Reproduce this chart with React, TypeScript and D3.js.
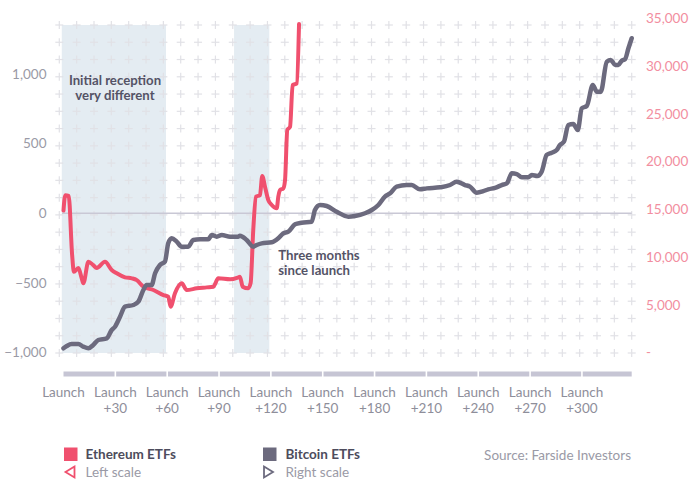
import React from "react";
import * as d3 from "d3";

// ---- Data ----
const ethDays = [0, 1, 3, 5, 6, 8.6, 10.5, 11.5, 14.4, 17.2, 19.2, 24, 27.9, 30.8, 35.6, 39.5, 42.4, 46.2, 52, 57.8, 60.6, 62, 64.5, 68.4, 71.3, 77.1, 82.9, 86.7, 89.6, 96.4, 101.2, 102.1, 103.7, 106.9, 108.3, 109.8, 111.4, 113.7, 115, 116.6, 118.5, 120.5, 123.4, 124.3, 125.3, 127.2, 128.2, 129.5, 131.1, 132.6, 135, 136.3];
const ethValues = [20, 130, 125, -300, -420, -393, -465, -503, -348, -372, -393, -348, -407, -431, -460, -467, -480, -527, -551, -587, -599, -671, -575, -503, -551, -539, -532, -527, -467, -474, -460, -456, -527, -539, -500, -120, 120, 131, 268, 191, 96, 60, 36, 120, 167, 180, 240, 599, 622, 922, 934, 1360];

const btcDays = [0, 1.9, 4.7, 8.6, 11.5, 14.4, 17.2, 20.1, 25, 27.9, 29.8, 32.7, 35.6, 40.4, 43.3, 46.2, 48.1, 51, 53, 55.8, 58.7, 60.6, 62.6, 65.5, 68.4, 72.2, 75.1, 79, 83.8, 85.8, 88.7, 91.6, 96.4, 101.2, 102.1, 106, 109.8, 111.8, 114.7, 120.5, 124.3, 127.2, 130.1, 134, 137.8, 143.6, 145.5, 148.4, 152.3, 158.1, 164.8, 168.7, 174.5, 178.4, 182.2, 186, 189, 192.8, 198.6, 201.5, 206.3, 210.2, 217.9, 223.7, 227.5, 232.3, 235.2, 239.1, 242.9, 245.8, 249.7, 253.6, 256.5, 259.4, 262.3, 265.2, 269, 271, 274.2, 276.7, 279.6, 282.5, 285.4, 287.3, 289.6, 292.1, 295, 297.6, 299.9, 302.8, 306.3, 308.6, 310.9, 314.4, 316.7, 319.2, 321.1, 323, 324.9, 326.9, 328.8];
const btcValues = [440, 680, 890, 890, 610, 440, 786, 1310, 1488, 2358, 2704, 3752, 4800, 4978, 5324, 6550, 7074, 7074, 8300, 9170, 9516, 11444, 11968, 11620, 11088, 11088, 11790, 11860, 11860, 12314, 12137, 12314, 12137, 12137, 12240, 11790, 11090, 11265, 11440, 11550, 11968, 12490, 12660, 13430, 13600, 13700, 14930, 15460, 15350, 14750, 14230, 14300, 14590, 14930, 15460, 16330, 16680, 17380, 17550, 17550, 17100, 17200, 17310, 17550, 17900, 17550, 17380, 16750, 16900, 17100, 17250, 17550, 17720, 18780, 18700, 18360, 18360, 18600, 18500, 18950, 20700, 20940, 21220, 21750, 22090, 23840, 23950, 23320, 25590, 25830, 28030, 27330, 27330, 30480, 30650, 30130, 30130, 30580, 30720, 31880, 32930];

const leftTicks = [-1000, -500, 0, 500, 1000];
const rightTicks = [0, 5000, 10000, 15000, 20000, 25000, 30000, 35000];
const xTicks = [0, 30, 60, 90, 120, 150, 180, 210, 240, 270, 300];
const xTickLabels = ["Launch", "Launch\n+30", "Launch\n+60", "Launch\n+90", "Launch\n+120", "Launch\n+150", "Launch\n+180", "Launch\n+210", "Launch\n+240", "Launch\n+270", "Launch\n+300"];
const shadedPeriods = [[-1, 59.3], [98.7, 119.1]];
const annotations = [
  { day: 29.8, value: 925, lines: ["Initial reception", "very different"], anchor: "middle" },
  { day: 124.3, value: -335, lines: ["Three months", "since launch"], anchor: "start" },
];
const lastDay = 328.8;

const ETH = "#f0506e";
const BTC = "#6c6a7e";
const FONT = "Lato, 'Open Sans', sans-serif";

export default function App() {
  const W = 691, H = 482;
  const x = d3.scaleLinear().domain([0, lastDay]).range([63.5, 631.7]);
  const yL = d3.scaleLinear().domain([-1000, 1400]).range([352.5, 18.5]);
  const yR = d3.scaleLinear().domain([0, 35000]).range([352.5, 18.5]);

  const ethLine = d3.line<number>().x((_, i) => x(ethDays[i])).y((v) => yL(v)).curve(d3.curveMonotoneX);
  const btcLine = d3.line<number>().x((_, i) => x(btcDays[i])).y((v) => yR(v)).curve(d3.curveMonotoneX);

  const gridTop = 25, gridBottom = 353;
  const cols = d3.range(34).map((k) => 59.3 + (k * (631.7 - 59.3)) / 33);
  const rows = d3.range(20).map((k) => gridBottom - (k * (gridBottom - gridTop)) / 19);

  const segs: [number, number][] = [];
  for (let i = 0; i < xTicks.length; i++) {
    const a = xTicks[i];
    const b = i + 1 < xTicks.length ? xTicks[i + 1] : lastDay;
    segs.push([a, b]);
  }
  const fmt = d3.format(",");
  const FS = 13.5;

  return (
    <svg width={W} height={H} style={{ position: "absolute", left: 0, top: 0 }} fontFamily={FONT}>
      <rect width={W} height={H} fill="#fff" />
      {shadedPeriods.map(([a, b], i) => (
        <rect key={i} x={x(a)} y={gridTop} width={x(b) - x(a)} height={gridBottom - gridTop} fill="#e4ecf2" />
      ))}
      <g stroke="#e1e1e6" strokeWidth={1.2}>
        {rows.map((ry, i) =>
          cols.map((cx, j) => (
            <g key={i + "-" + j}>
              <line x1={cx - 4} x2={cx + 4} y1={ry} y2={ry} />
              <line x1={cx} x2={cx} y1={ry - 4} y2={ry + 4} />
            </g>
          ))
        )}
      </g>
      <line x1={x(0) - 1.5} x2={x(lastDay)} y1={yL(0)} y2={yL(0)} stroke="#c9c8d5" strokeWidth={1.5} />

      {leftTicks.map((t) => (
        <text key={t} x={46.5} y={yL(t)} dy="0.35em" textAnchor="end" fontSize={FS} fill="#9a9aa6">
          {fmt(t)}
        </text>
      ))}
      {rightTicks.map((t) => (
        <text key={t} x={646} y={yR(t)} dy="0.35em" textAnchor="start" fontSize={FS} fill="#f28ea0">
          {t === 0 ? "-" : fmt(t)}
        </text>
      ))}

      {annotations.map((a, i) =>
        a.lines.map((l, k) => (
          <text key={i + "-" + k} x={x(a.day)} y={yL(a.value) + k * 15.5} textAnchor={a.anchor} fontSize={13.2} fontWeight={700} fill="#545366">
            {l}
          </text>
        ))
      )}

      <path d={ethLine(ethValues) || ""} fill="none" stroke={ETH} strokeWidth={4} strokeLinejoin="round" strokeLinecap="round" />
      <path d={btcLine(btcValues) || ""} fill="none" stroke={BTC} strokeWidth={4.5} strokeLinejoin="round" strokeLinecap="round" />

      {segs.map(([a, b], i) => (
        <rect key={i} x={x(a) + (i === 0 ? 0 : 0.8)} y={371.5} width={x(b) - x(a) - (i === 0 ? 0.8 : 1.6) + (i === segs.length - 1 ? 0.8 : 0)} height={5} fill="#c6c5d4" />
      ))}
      {xTicks.map((t, i) =>
        xTickLabels[i].split("\n").map((l, k) => (
          <text key={t + "-" + k} x={x(t)} y={392.5 + k * 15.5} dy="0.35em" textAnchor="middle" fontSize={FS} fill="#8e8e9a">
            {l}
          </text>
        ))
      )}

      {/* Legend */}
      <rect x={64} y={447.5} width={13.5} height={13.5} fill={ETH} />
      <text x={85.5} y={454.5} dy="0.35em" fontSize={FS} fontWeight={700} fill="#4d4c5c">Ethereum ETFs</text>
      <path d="M74.5,466.5 L65.5,472 L74.5,477.5 Z" fill="none" stroke={ETH} strokeWidth={1.8} strokeLinejoin="miter" />
      <text x={85.5} y={472} dy="0.35em" fontSize={FS} fill="#9a9aa6">Left scale</text>

      <rect x={263} y={447.5} width={13.5} height={13.5} fill={BTC} />
      <text x={285.5} y={454.5} dy="0.35em" fontSize={FS} fontWeight={700} fill="#4d4c5c">Bitcoin ETFs</text>
      <path d="M264,466.5 L273,472 L264,477.5 Z" fill="none" stroke={BTC} strokeWidth={1.8} strokeLinejoin="miter" />
      <text x={285.5} y={472} dy="0.35em" fontSize={FS} fill="#9a9aa6">Right scale</text>

      <text x={631} y={455} dy="0.35em" textAnchor="end" fontSize={FS} fill="#9a9aa6">Source: Farside Investors</text>
    </svg>
  );
}
